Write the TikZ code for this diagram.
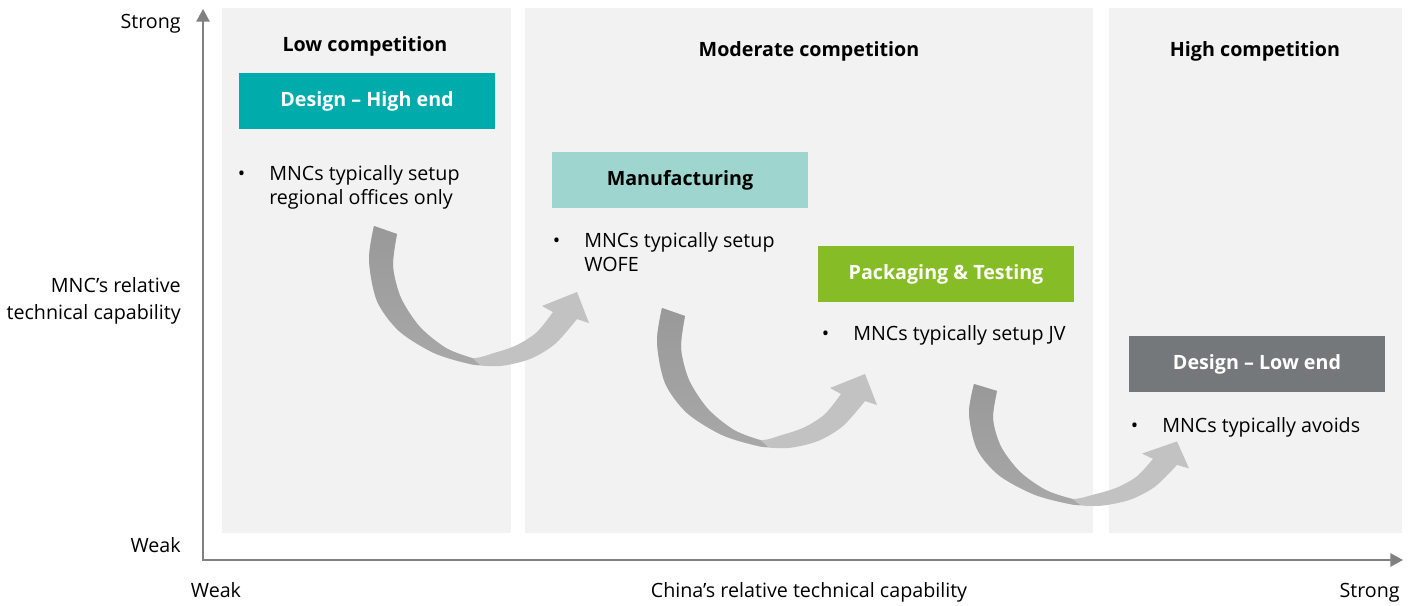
\documentclass[tikz,border=0pt]{standalone}
\usepackage{fontspec}
\setmainfont{Open Sans}
\usetikzlibrary{arrows.meta,positioning}
\definecolor{panelgray}{HTML}{F2F2F2}
\definecolor{axisgray}{HTML}{808080}
\definecolor{dteal}{HTML}{00ABAB}
\definecolor{lteal}{HTML}{9ED5CF}
\definecolor{dgreen}{HTML}{86BC25}
\definecolor{cgray}{HTML}{75787B}
\definecolor{arrowdark}{HTML}{999999}
\definecolor{arrowmid}{HTML}{A8A8A8}
\definecolor{arrowlight}{HTML}{C2C2C2}

\begin{document}
\begin{tikzpicture}[x=0.025cm, y=-0.025cm, font=\fontsize{14}{17}\selectfont,
  axis/.style={draw=axisgray, line width=1.1pt, {Triangle[width=9.5pt,length=9pt]}-{Triangle[width=9.5pt,length=9pt]}},
  panel/.style={fill=panelgray},
  title/.style={anchor=base, inner sep=0pt, font=\fontsize{14}{17}\selectfont\bfseries},
  stage/.style={minimum width=6.4cm, minimum height=1.4cm, inner sep=0pt, font=\fontsize{14}{17}\selectfont\bfseries},
  item/.style={anchor=base west, align=left, inner sep=0pt},
  lbl/.style={anchor=base, inner sep=0pt},
  curvearrow/.pic={
    \fill[arrowlight] plot[smooth] coordinates {(0,0) (-5,34) (3,75) (25,105) (60,127) (96,138) (126,140) (156,133) (181,118) (203,93)}
      -- (215,97) -- (203,66) -- (168,80)
      -- plot[smooth] coordinates {(179,86) (163,106) (143,119) (120,127) (98,132) (72,122) (46,101) (27,72) (19,40) (23,8)} -- cycle;
    \shade[top color=arrowdark, bottom color=arrowmid] plot[smooth] coordinates {(0,0) (-5,34) (3,75) (25,105) (60,127) (96,138) (106,139)}
      -- plot[smooth] coordinates {(98,132) (72,122) (46,101) (27,72) (19,40) (23,8)} -- cycle;
  }]
\useasboundingbox (0,0) rectangle (1419,605);

% competition zones
\fill[panel] (222,8) rectangle (511,533);
\fill[panel] (525,8) rectangle (1093,533);
\fill[panel] (1109,8) rectangle (1402,533);
\node[title] (lowc) at (365,51) {Low competition};
\node[title] (modc) at (809,56) {Moderate competition};
\node[title] (highc) at (1255,56) {High competition};

% axes
\coordinate (origin) at (203,560);
\coordinate (ytip) at (203,9);
\coordinate (xtip) at (1403,560);
\draw[axis] (ytip) -- (origin) -- (xtip);
\node[lbl, anchor=base east] (ystrong) at (181,28) {Strong};
\node[lbl, anchor=base east] (yweak) at (181,552) {Weak};
\node[lbl, anchor=base east, align=right, font=\fontsize{14}{18.5}\selectfont] (ytitle) at (181,319) {MNC’s relative\\technical capability};
\node[lbl] (xweak) at (216,597) {Weak};
\node[lbl] (xtitle) at (809,597) {China’s relative technical capability};
\node[lbl, anchor=base east] (xstrong) at (1400,597) {Strong};

% stages
\node[stage, fill=dteal, text=white] (hidesign) at (367,101) {Design – High end};
\node[item] (hinote) at (269,204) {\llap{\textbullet\hspace{17pt}}MNCs typically setup\\regional offices only};
\node[stage, fill=lteal] (manuf) at (680,180) {Manufacturing};
\node[item] (mfnote) at (584,271) {\llap{\textbullet\hspace{17pt}}MNCs typically setup\\WOFE};
\node[stage, fill=dgreen, text=white] (pack) at (946,274) {Packaging \& Testing};
\node[item] (pknote) at (853,340) {\llap{\textbullet\hspace{17pt}}MNCs typically setup JV};
\node[stage, fill=cgray, text=white] (lodesign) at (1257,364) {Design – Low end};
\node[item] (lonote) at (1162,432) {\llap{\textbullet\hspace{17pt}}MNCs typically avoids};

% shifts between stages
\pic at (374,226) {curvearrow};
\pic at (662,308) {curvearrow};
\pic[yscale=0.87] at (974,384) {curvearrow};
\end{tikzpicture}
\end{document}
